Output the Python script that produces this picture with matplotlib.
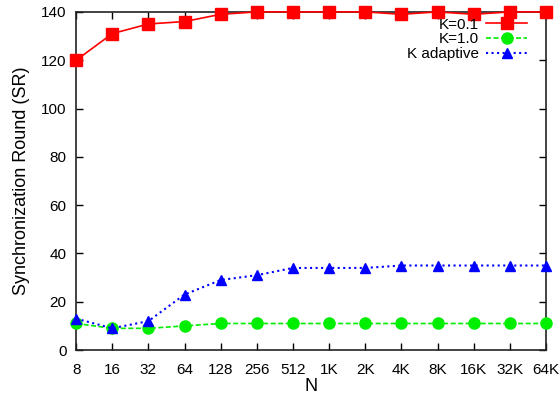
import numpy as np
import matplotlib.pyplot as plt

plt.rcParams['font.family'] = ['Liberation Sans', 'DejaVu Sans']

# Network sizes and synchronization rounds per K setting
n_labels = ['8', '16', '32', '64', '128', '256', '512', '1K', '2K', '4K', '8K', '16K', '32K', '64K']
sr_k01 = [120, 131, 135, 136, 139, 140, 140, 140, 140, 139, 140, 139, 140, 140]
sr_k10 = [11, 9, 9, 10, 11, 11, 11, 11, 11, 11, 11, 11, 11, 11]
sr_kadapt = [13, 9, 12, 23, 29, 31, 34, 34, 34, 35, 35, 35, 35, 35]

x = np.arange(len(n_labels))

fig = plt.figure(figsize=(5.6, 3.96), dpi=100)
ax = fig.add_axes([0.136, 0.116, 0.839, 0.854])

ax.plot(x, sr_k01, '-', color='#ff0000', marker='s', markersize=9, lw=1.2, label='K=0.1', clip_on=False, zorder=3)
ax.plot(x, sr_k10, '--', color='#00ee00', marker='o', markersize=8, lw=1.2, dashes=(3, 1.5),
        label='K=1.0', clip_on=False, zorder=3)
ax.plot(x, sr_kadapt, ':', color='#0000ff', marker='^', markersize=7, lw=1.5, label='K adaptive',
        clip_on=False, zorder=3)

ax.set_xlim(0, len(n_labels) - 1)
ax.set_ylim(0, 140)
ax.set_xticks(x)
ax.set_xticklabels(n_labels)
ax.set_yticks(range(0, 141, 20))
ax.tick_params(axis='both', direction='in', top=True, right=True, labelsize=11, length=5, width=1)
ax.tick_params(axis='x', pad=9)
ax.tick_params(axis='y', pad=7)
for s in ax.spines.values():
    s.set_linewidth(1.2)
    s.set_color('#222222')

ax.set_xlabel('N', fontsize=13, labelpad=1)
ax.set_ylabel('Synchronization Round (SR)', fontsize=13, labelpad=8)

ax.legend(loc='upper right', bbox_to_anchor=(0.98, 1.01), markerfirst=False, frameon=False,
          fontsize=11, handlelength=2.7, labelspacing=0.05, borderaxespad=0.2, handletextpad=0.5)

fig.savefig('out.png', dpi=100)
